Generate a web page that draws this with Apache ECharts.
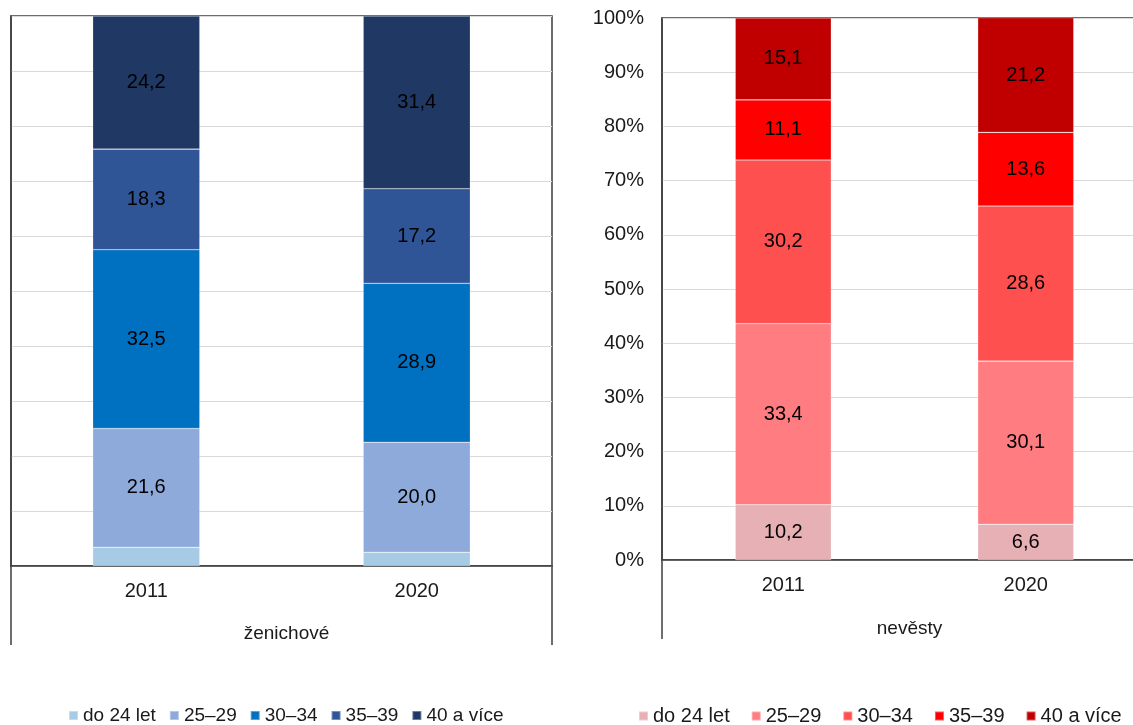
<!DOCTYPE html>
<html>
<head>
<meta charset="utf-8">
<script src="https://cdn.jsdelivr.net/npm/echarts@6/dist/echarts.min.js"></script>
<style>
html,body{margin:0;padding:0;background:#fff;overflow:hidden;}
#c{width:1133px;height:725px;}
</style>
</head>
<body>
<div id="c"></div>
<script>
// ---- data ----
const categories = ['2011', '2020'];
const seriesNames = ['do 24 let', '25–29', '30–34', '35–39', '40 a více'];
const yTickLabels = ['0%', '10%', '20%', '30%', '40%', '50%', '60%', '70%', '80%', '90%', '100%'];
const panelTitles = ['ženichové', 'nevěsty'];

// grooms (ženichové), % by age group
const grooms_do24 = [3.4, 2.5];
const grooms_25_29 = [21.6, 20.0];
const grooms_30_34 = [32.5, 28.9];
const grooms_35_39 = [18.3, 17.2];
const grooms_40plus = [24.2, 31.4];

// brides (nevěsty), % by age group
const brides_do24 = [10.2, 6.6];
const brides_25_29 = [33.4, 30.1];
const brides_30_34 = [30.2, 28.6];
const brides_35_39 = [11.1, 13.6];
const brides_40plus = [15.1, 21.2];

// ---- styling ----
const blueColors = ['#a7cbe5', '#8eaadb', '#0070c0', '#2f5597', '#1f3864'];
const redColors = ['#e6b0b5', '#ff7c80', '#ff5050', '#ff0000', '#c00000'];
const FONT = '"Liberation Sans", Arial, sans-serif';
const TXT = '#1a1a1a';
const LINE = '#3c3c3c';

const G0 = {left: 11, top: 16, width: 541, height: 550};
const G1 = {left: 662, top: 18, width: 485, height: 542};

const groomsData = [grooms_do24, grooms_25_29, grooms_30_34, grooms_35_39, grooms_40plus];
const bridesData = [brides_do24, brides_25_29, brides_30_34, brides_35_39, brides_40plus];

const fmt = p => p.value.toFixed(1).replace('.', ',');

function makeSeries(dataSets, colors, axisIdx, stack, hideFirstLabel) {
  return dataSets.map((d, i) => ({
    name: seriesNames[i],
    type: 'bar',
    stack: stack,
    xAxisIndex: axisIdx,
    yAxisIndex: axisIdx,
    barWidth: '39.6%',
    data: d,
    itemStyle: {color: colors[i], borderColor: 'rgba(255,255,255,0.35)', borderWidth: 0.6},
    label: {
      show: !(hideFirstLabel && i === 0),
      position: 'inside',
      formatter: fmt,
      color: '#000',
      fontFamily: FONT,
      fontSize: 20
    },
    emphasis: {disabled: true},
    animation: false
  }));
}

function yAxis(gridIndex, showLabels) {
  return {
    type: 'value', gridIndex: gridIndex, min: 0, max: 100, interval: 10,
    axisLine: {show: true, lineStyle: {color: LINE, width: 1.5}},
    axisTick: {show: false},
    splitLine: {show: true, lineStyle: {color: '#d9d9d9', width: 1.2}},
    axisLabel: {
      show: showLabels, margin: 18, color: TXT, fontFamily: FONT, fontSize: 20,
      formatter: v => yTickLabels[Math.round(v / 10)]
    }
  };
}

function xAxis(gridIndex) {
  return {
    type: 'category', gridIndex: gridIndex, data: categories,
    axisLine: {show: true, lineStyle: {color: LINE, width: 1.5}},
    axisTick: {show: false},
    axisLabel: {margin: 15, color: TXT, fontFamily: FONT, fontSize: 20}
  };
}

function legend(left, gap, fontSize, colors) {
  return {
    left: left, top: 706, orient: 'horizontal', padding: 0,
    icon: 'rect', itemWidth: 9, itemHeight: 9, itemGap: gap,
    textStyle: {color: TXT, fontFamily: FONT, fontSize: fontSize},
    selectedMode: false,
    data: seriesNames.map((n, i) => ({name: n, itemStyle: {color: colors[i]}}))
  };
}

const lineStyle = {stroke: LINE, lineWidth: 1.5};

function grid(g) {
  return Object.assign({show: true, borderColor: LINE, borderWidth: 1.5,
    backgroundColor: 'transparent', containLabel: false, outerBoundsMode: 'none'}, g);
}

const option = {
  animation: false,
  grid: [grid(G0), grid(G1)],
  xAxis: [xAxis(0), xAxis(1)],
  yAxis: [yAxis(0, false), yAxis(1, true)],
  legend: [legend(68, 13, 19, blueColors), legend(638, 21, 20, redColors)],
  title: [
    {text: panelTitles[0], left: G0.left + G0.width / 2, top: 619, textAlign: 'center',
     textStyle: {color: TXT, fontFamily: FONT, fontSize: 19, fontWeight: 'normal'}},
    {text: panelTitles[1], left: G1.left + G1.width / 2, top: 614, textAlign: 'center',
     textStyle: {color: TXT, fontFamily: FONT, fontSize: 19, fontWeight: 'normal'}}
  ],
  graphic: [
    {type: 'line', shape: {x1: G0.left, y1: G0.top + G0.height, x2: G0.left, y2: 645}, style: lineStyle, silent: true},
    {type: 'line', shape: {x1: G0.left + G0.width, y1: G0.top + G0.height, x2: G0.left + G0.width, y2: 645}, style: lineStyle, silent: true},
    {type: 'line', shape: {x1: G1.left, y1: G1.top + G1.height, x2: G1.left, y2: 639}, style: lineStyle, silent: true}
  ],
  series: [].concat(
    makeSeries(groomsData, blueColors, 0, 'grooms', true),
    makeSeries(bridesData, redColors, 1, 'brides', false)
  )
};

const chart = echarts.init(document.getElementById('c'), null, {renderer: 'canvas'});
chart.setOption(option);
</script>
</body>
</html>
